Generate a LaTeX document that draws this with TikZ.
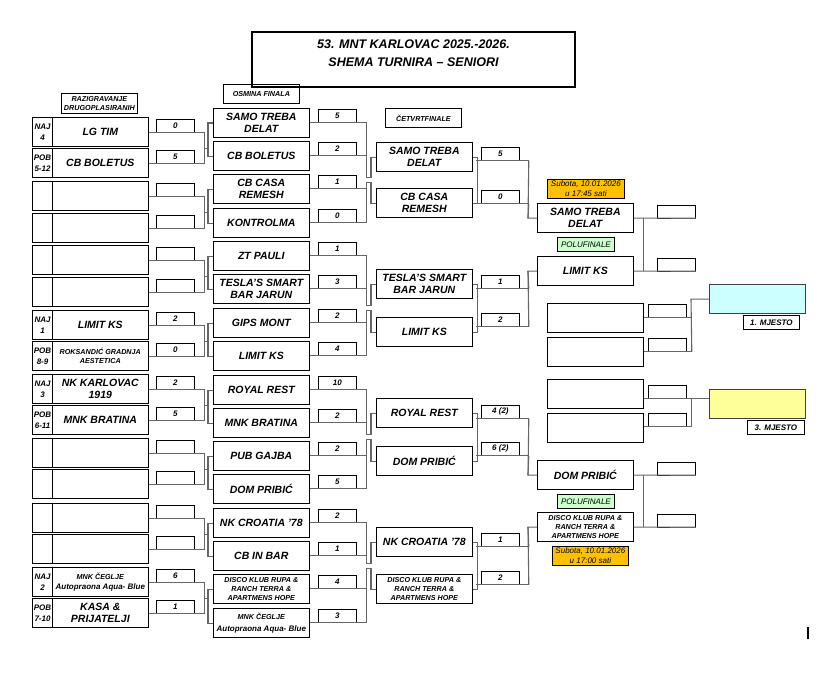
\documentclass[tikz,border=0pt]{standalone}
\usepackage{fontspec}
\setmainfont{Liberation Sans}
\usetikzlibrary{calc}

\definecolor{datefill}{HTML}{FFC000}
\definecolor{polufill}{HTML}{CCFFCC}
\definecolor{firstfill}{HTML}{CCFFFF}
\definecolor{thirdfill}{HTML}{FFFF99}

\newcommand{\teamfont}{\fontsize{10.5}{12.5}\selectfont\bfseries\itshape}
\newcommand{\smallteam}{\fontsize{7.2}{8.8}\selectfont\bfseries\itshape}
\newcommand{\scorefont}{\fontsize{8}{9}\selectfont\bfseries\itshape}
\newcommand{\seedfont}{\fontsize{8}{11}\selectfont\bfseries\itshape}
\newcommand{\headfont}{\fontsize{7.2}{8.5}\selectfont\bfseries\itshape}
\newcommand{\titlefont}{\fontsize{12.5}{18.5}\selectfont\bfseries\itshape}
\newcommand{\datefont}{\fontsize{8}{10}\selectfont\itshape}
\newcommand{\polufont}{\fontsize{8}{9}\selectfont\itshape}
\newcommand{\placefont}{\fontsize{8}{9}\selectfont\bfseries\itshape}

\tikzset{
  team/.style={draw, line width=1.1pt, anchor=north west, minimum width=95.5pt,
    minimum height=29pt, inner sep=0pt, align=center, font=\teamfont},
  seed/.style={team, minimum width=20pt, font=\seedfont},
  score/.style={draw, line width=0.8pt, anchor=north west, minimum width=38pt,
    minimum height=13pt, inner sep=0pt, font=\scorefont},
  headbox/.style={draw, line width=0.8pt, anchor=north west, inner sep=0pt,
    align=center, font=\headfont},
  link/.style={draw=black!60, line width=1.1pt},
}

\begin{document}
\begin{tikzpicture}[x=1pt,y=-1pt]
\useasboundingbox (0,0) rectangle (839,677);
\fill[white] (0,0) rectangle (839,677);
% Title
\draw[line width=1.8pt] (252,32) rectangle (575,87);
\node[font=\titlefont, align=center] (title) at (413.5,53) {53. MNT KARLOVAC 2025.-2026.\\SHEMA TURNIRA – SENIORI};
% Round headers
\node[headbox, minimum width=76pt, minimum height=20pt] (razig) at (61,93) {RAZIGRAVANJE\\DRUGOPLASIRANIH};
\node[headbox, minimum width=76pt, minimum height=19pt] (osmina) at (223,84) {OSMINA FINALA};
\node[headbox, minimum width=76pt, minimum height=19pt] (cetvrt) at (385,108) {ČETVRTFINALE};
%
% Razigravanje drugoplasiranih
\node[seed] (s1) at (32,117) {NAJ\\4};
\node[team] (a1) at (52,117) {LG TIM};
\node[score] (pa1) at (156,119) {0};
\node[seed] (s2) at (32,148) {POB\\5-12};
\node[team] (a2) at (52,148) {CB BOLETUS};
\node[score] (pa2) at (156,150) {5};
\node[seed] (s3) at (32,181) {};
\node[team] (a3) at (52,181) {};
\node[score] (pa3) at (156,183) {};
\node[seed] (s4) at (32,213) {};
\node[team] (a4) at (52,213) {};
\node[score] (pa4) at (156,215) {};
\node[seed] (s5) at (32,245) {};
\node[team] (a5) at (52,245) {};
\node[score] (pa5) at (156,247) {};
\node[seed] (s6) at (32,277) {};
\node[team] (a6) at (52,277) {};
\node[score] (pa6) at (156,279) {};
\node[seed] (s7) at (32,310) {NAJ\\1};
\node[team] (a7) at (52,310) {LIMIT KS};
\node[score] (pa7) at (156,312) {2};
\node[seed] (s8) at (32,341) {POB\\8-9};
\node[team, font=\smallteam] (a8) at (52,341) {ROKSANDIĆ GRADNJA\\AESTETICA};
\node[score] (pa8) at (156,343) {0};
\node[seed] (s9) at (32,374) {NAJ\\3};
\node[team] (a9) at (52,374) {NK KARLOVAC\\1919};
\node[score] (pa9) at (156,376) {2};
\node[seed] (s10) at (32,405) {POB\\6-11};
\node[team] (a10) at (52,405) {MNK BRATINA};
\node[score] (pa10) at (156,407) {5};
\node[seed] (s11) at (32,438) {};
\node[team] (a11) at (52,438) {};
\node[score] (pa11) at (156,440) {};
\node[seed] (s12) at (32,469) {};
\node[team] (a12) at (52,469) {};
\node[score] (pa12) at (156,471) {};
\node[seed] (s13) at (32,503) {};
\node[team] (a13) at (52,503) {};
\node[score] (pa13) at (156,505) {};
\node[seed] (s14) at (32,534) {};
\node[team] (a14) at (52,534) {};
\node[score] (pa14) at (156,536) {};
\node[seed] (s15) at (32,567) {NAJ\\2};
\node[team, font=\smallteam] (a15) at (52,567) {MNK ČEGLJE\\[1pt]\fontsize{8}{9}\selectfont Autopraona Aqua- Blue};
\node[score] (pa15) at (156,569) {6};
\node[seed] (s16) at (32,598) {POB\\7-10};
\node[team] (a16) at (52,598) {KASA \&\\PRIJATELJI};
\node[score] (pa16) at (156,600) {1};
%
% Osmina finala
\node[team] (b1) at (213,108) {SAMO TREBA\\DELAT};
\node[score] (pb1) at (318,109) {5};
\node[team] (b2) at (213,141) {CB BOLETUS};
\node[score] (pb2) at (318,142) {2};
\node[team] (b3) at (213,174) {CB CASA\\REMESH};
\node[score] (pb3) at (318,175) {1};
\node[team] (b4) at (213,208) {KONTROLMA};
\node[score] (pb4) at (318,209) {0};
\node[team] (b5) at (213,241) {ZT PAULI};
\node[score] (pb5) at (318,242) {1};
\node[team] (b6) at (213,274) {TESLA'S SMART\\BAR JARUN};
\node[score] (pb6) at (318,275) {3};
\node[team] (b7) at (213,308) {GIPS MONT};
\node[score] (pb7) at (318,309) {2};
\node[team] (b8) at (213,341) {LIMIT KS};
\node[score] (pb8) at (318,342) {4};
\node[team] (b9) at (213,375) {ROYAL REST};
\node[score] (pb9) at (318,376) {10};
\node[team] (b10) at (213,408) {MNK BRATINA};
\node[score] (pb10) at (318,409) {2};
\node[team] (b11) at (213,441) {PUB GAJBA};
\node[score] (pb11) at (318,442) {2};
\node[team] (b12) at (213,474) {DOM PRIBIĆ};
\node[score] (pb12) at (318,475) {5};
\node[team] (b13) at (213,508) {NK CROATIA '78};
\node[score] (pb13) at (318,509) {2};
\node[team] (b14) at (213,541) {CB IN BAR};
\node[score] (pb14) at (318,542) {1};
\node[team, font=\smallteam] (b15) at (213,574) {DISCO KLUB RUPA \&\\RANCH TERRA \&\\APARTMENS HOPE};
\node[score] (pb15) at (318,575) {4};
\node[team, font=\smallteam] (b16) at (213,608) {MNK ČEGLJE\\[4pt]\fontsize{8}{9}\selectfont Autopraona Aqua- Blue};
\node[score] (pb16) at (318,609) {3};
%
% Cetvrtfinale
\node[team] (c1) at (376,142) {SAMO TREBA\\DELAT};
\node[score] (pc1) at (481,147) {5};
\node[team] (c2) at (376,188) {CB CASA\\REMESH};
\node[score] (pc2) at (481,190) {0};
\node[team] (c3) at (376,269) {TESLA'S SMART\\BAR JARUN};
\node[score] (pc3) at (481,275) {1};
\node[team] (c4) at (376,317) {LIMIT KS};
\node[score] (pc4) at (481,313) {2};
\node[team] (c5) at (376,398) {ROYAL REST};
\node[score] (pc5) at (481,405) {4 (2)};
\node[team] (c6) at (376,446) {DOM PRIBIĆ};
\node[score] (pc6) at (481,442) {6 (2)};
\node[team] (c7) at (376,527) {NK CROATIA '78};
\node[score] (pc7) at (481,533) {1};
\node[team, font=\smallteam] (c8) at (376,574) {DISCO KLUB RUPA \&\\RANCH TERRA \&\\APARTMENS HOPE};
\node[score] (pc8) at (481,571) {2};
%
% Polufinale
\node[headbox, fill=datefill, minimum width=77pt, minimum height=19pt, font=\datefont] (date1) at (547,179) {Subota, 10.01.2026\\u 17:45 sati};
\node[team] (d1) at (537,203) {SAMO TREBA\\DELAT};
\node[score] (pd1) at (657,204.5) {};
\node[headbox, fill=polufill, minimum width=57pt, minimum height=14pt, font=\polufont] (polu1) at (557,237) {POLUFINALE};
\node[team] (d2) at (537,256) {LIMIT KS};
\node[score] (pd2) at (657,257.5) {};
\node[team] (d3) at (537,460) {DOM PRIBIĆ};
\node[score] (pd3) at (657,461.5) {};
\node[headbox, fill=polufill, minimum width=57pt, minimum height=14pt, font=\polufont] (polu2) at (557,494) {POLUFINALE};
\node[team, font=\smallteam] (d4) at (537,512) {DISCO KLUB RUPA \&\\RANCH TERRA \&\\APARTMENS HOPE};
\node[score] (pd4) at (657,513.5) {};
\node[headbox, fill=datefill, minimum width=76pt, minimum height=19pt, font=\datefont] (date2) at (552,546) {Subota, 10.01.2026\\u 17:00 sati};
%
% Finale i utakmica za 3. mjesto
\node[team] (f1) at (547,303) {};
\node[score] (pf1) at (648,304) {};
\node[team] (f2) at (547,337) {};
\node[score] (pf2) at (648,338) {};
\node[team, fill=firstfill, draw=black!75] (win1) at (709,284) {};
\node[headbox, minimum width=56pt, minimum height=14pt, font=\placefont] (place1) at (743,315) {1. MJESTO};
\node[team] (t1) at (547,379) {};
\node[score] (pt1) at (648,385) {};
\node[team] (t2) at (547,413) {};
\node[score] (pt2) at (648,413) {};
\node[team, fill=thirdfill, draw=black!75] (win3) at (709,389) {};
\node[headbox, minimum width=57pt, minimum height=14pt, font=\placefont] (place3) at (747,420) {3. MJESTO};
%
% Razigravanje -> osmina finala
\foreach \i/\j in {1/2,3/4,5/6,7/8,9/10,11/12,13/14,15/16}{
  \draw[link] (a\i.east |- pa\i.south) -- ([xshift=10pt]pa\i.south east) -- ([xshift=10pt]pa\j.south east) -- (a\j.east |- pa\j.south);
  \draw[link] ($(pa\i.south east)!0.5!(pa\j.south east)$) ++(10,0) -- ++(4,0);
  \draw[link] (b\i.west) -- ++(-5,0) |- (b\j.west);
}
% Osmina finala -> cetvrtfinale
\foreach \ia/\ib/\ic/\id/\oa/\ob in {1/2/3/4/1/2,5/6/7/8/3/4,9/10/11/12/5/6,13/14/15/16/7/8}{
  \coordinate (m) at ($(c\oa.west)!0.5!(c\ob.west)$);
  \draw[link] (b\ia.east |- pb\ia.south) -- ([xshift=10pt]pb\ia.south east) |- ([xshift=-5pt,yshift=2.5pt]m) |- (c\oa.west);
  \draw[link] (b\ib.east |- pb\ib.south) -- ([xshift=10pt]pb\ib.south east);
  \draw[link] (b\ic.east |- pb\ic.south) -- ([xshift=10pt]pb\ic.south east);
  \draw[link] (b\id.east |- pb\id.south) -- ([xshift=10pt]pb\id.south east) |- ([xshift=-5pt,yshift=-2.5pt]m) |- (c\ob.west);
}
% Cetvrtfinale -> polufinale
\foreach \p/\q/\h in {1/2/1,3/4/2,5/6/3,7/8/4}{
  \draw[link] (c\p.east) -- ++(4.5,0) |- (c\q.east);
  \draw[link] ([xshift=-5pt]pc\p.south west) -- ([xshift=9pt]pc\p.south east);
  \draw[link] ([xshift=-5pt]pc\q.south west) -- ([xshift=9pt]pc\q.south east);
  \draw[link] (d\h.west) -- ++(-9,0) -- ([xshift=9pt]pc\p.south east);
  \draw[link] (d\h.west) ++(-9,0) -- ([xshift=9pt]pc\q.south east);
}
% Polufinale
\foreach \i/\j in {1/2,3/4}{
  \draw[link] (d\i.east) -- (pd\i.south east);
  \draw[link] (d\j.east) -- (pd\j.south east);
  \draw[link] ([xshift=10pt]d\i.east) -- ([xshift=10pt]d\j.east);
}
% Finale, 3. mjesto
\draw[link] (f1.east |- pf1.south) -- ([xshift=5pt]pf1.south east);
\draw[link] (f2.east |- pf2.south) -- ([xshift=5pt]pf2.south east);
\draw[link] (win1.west) -- ++(-18,0) -- ([xshift=5pt]pf2.south east);
\draw[link] (t1.east |- pt1.south) -- (win3.west |- pt1.south);
\draw[link] (t2.east |- pt2.south) -- ([xshift=5pt]pt2.south east) -- ([xshift=5pt]pt1.south east);
%
\draw[line width=1.6pt] (808,627) -- (808,639);
\end{tikzpicture}
\end{document}
